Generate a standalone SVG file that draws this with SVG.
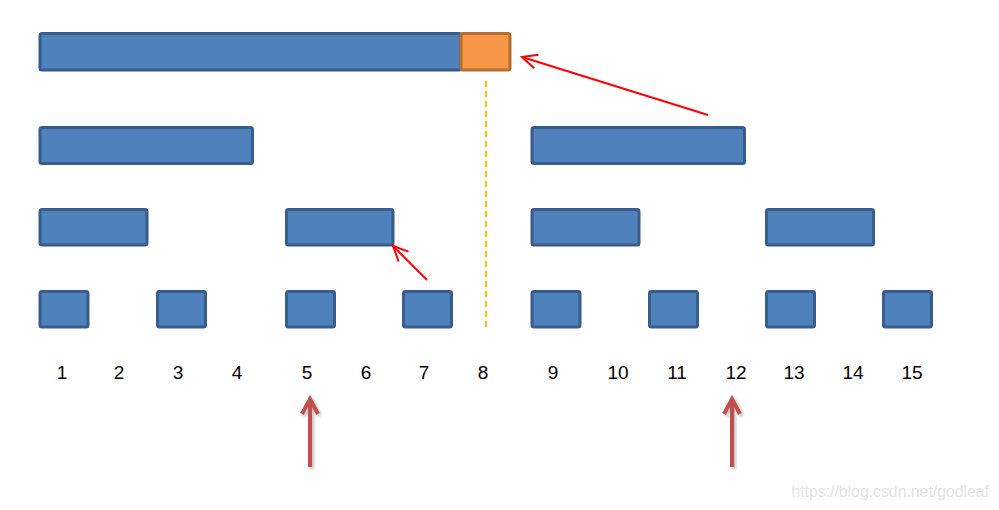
<svg xmlns="http://www.w3.org/2000/svg" width="999" height="510" viewBox="0 0 999 510">
<style>
.b{fill:#4F81BD;stroke:#385D8A;stroke-width:3}
.o{fill:#F79646;stroke:#B66D31;stroke-width:3}
.n{font-family:"Liberation Sans",Arial,sans-serif;font-size:19px;fill:#000;text-anchor:middle}
.r{stroke:#FF0000;stroke-width:2;fill:none}
.u{stroke:#C0504D;stroke-width:4;fill:none;stroke-linejoin:miter}
</style>
<defs>
<marker id="ah" markerUnits="userSpaceOnUse" markerWidth="20" markerHeight="20" viewBox="0 0 20 20" refX="16" refY="10" orient="auto">
<path d="M1,3 L16,10 L1,17" fill="none" stroke="#FF0000" stroke-width="2"/>
</marker>
<filter id="sh" x="-50%" y="-20%" width="200%" height="140%">
<feGaussianBlur in="SourceAlpha" stdDeviation="1.5"/>
<feOffset dx="2" dy="2" result="b"/>
<feComponentTransfer><feFuncA type="linear" slope="0.25"/></feComponentTransfer>
<feMerge><feMergeNode/><feMergeNode in="SourceGraphic"/></feMerge>
</filter>
</defs>
<rect width="999" height="510" fill="#fff"/>
<g id="root"><rect class="b" x="40" y="33.5" width="421" height="36.5" rx="2"/></g>
<g id="root-extra"><rect class="o" x="461" y="33.5" width="49" height="36.5" rx="2"/></g>
<g id="l2a"><rect class="b" x="40" y="127.5" width="212.5" height="36" rx="2"/></g>
<g id="l2b"><rect class="b" x="532" y="127.5" width="212.5" height="36" rx="2"/></g>
<g id="l3a"><rect class="b" x="40" y="209.5" width="107" height="35.5" rx="2"/></g>
<g id="l3b"><rect class="b" x="286.5" y="209.5" width="106.5" height="35.5" rx="2"/></g>
<g id="l3c"><rect class="b" x="532" y="209.5" width="107" height="35.5" rx="2"/></g>
<g id="l3d"><rect class="b" x="766.5" y="209.5" width="107" height="35.5" rx="2"/></g>
<g id="l4a"><rect class="b" x="40" y="291.5" width="48" height="35.5" rx="2"/></g>
<g id="l4b"><rect class="b" x="157.5" y="291.5" width="48" height="35.5" rx="2"/></g>
<g id="l4c"><rect class="b" x="286.5" y="291.5" width="48" height="35.5" rx="2"/></g>
<g id="l4d"><rect class="b" x="403.5" y="291.5" width="48" height="35.5" rx="2"/></g>
<g id="l4e"><rect class="b" x="532" y="291.5" width="48" height="35.5" rx="2"/></g>
<g id="l4f"><rect class="b" x="649.5" y="291.5" width="48" height="35.5" rx="2"/></g>
<g id="l4g"><rect class="b" x="766.5" y="291.5" width="48" height="35.5" rx="2"/></g>
<g id="l4h"><rect class="b" x="883.5" y="291.5" width="48" height="35.5" rx="2"/></g>
<g id="connectors">
<line x1="486" y1="81" x2="486" y2="327" stroke="#FFC000" stroke-width="2" stroke-dasharray="6,4"/>
<line class="r" x1="708" y1="115" x2="522" y2="57" marker-end="url(#ah)"/>
<line class="r" x1="427" y1="280" x2="393" y2="246" marker-end="url(#ah)"/>
<g filter="url(#sh)">
<line class="u" x1="310" y1="467" x2="310" y2="400"/>
<polyline class="u" points="302,414 310,399 318,414"/>
<line class="u" x1="732" y1="467" x2="732" y2="400"/>
<polyline class="u" points="724,414 732,399 740,414"/>
</g>
</g>
<g id="labels">
<text class="n" x="62" y="379">1</text>
<text class="n" x="119" y="379">2</text>
<text class="n" x="178" y="379">3</text>
<text class="n" x="237" y="379">4</text>
<text class="n" x="307" y="379">5</text>
<text class="n" x="366" y="379">6</text>
<text class="n" x="424" y="379">7</text>
<text class="n" x="483" y="379">8</text>
<text class="n" x="553" y="379">9</text>
<text class="n" x="618" y="379">10</text>
<text class="n" x="677" y="379">11</text>
<text class="n" x="736" y="379">12</text>
<text class="n" x="794" y="379">13</text>
<text class="n" x="853" y="379">14</text>
<text class="n" x="912" y="379">15</text>
</g>
<text x="989" y="497" font-family="'Liberation Sans',Arial,sans-serif" font-size="15.8" fill="#E3E3E3" text-anchor="end">https://blog.csdn.net/godleaf</text>
</svg>
